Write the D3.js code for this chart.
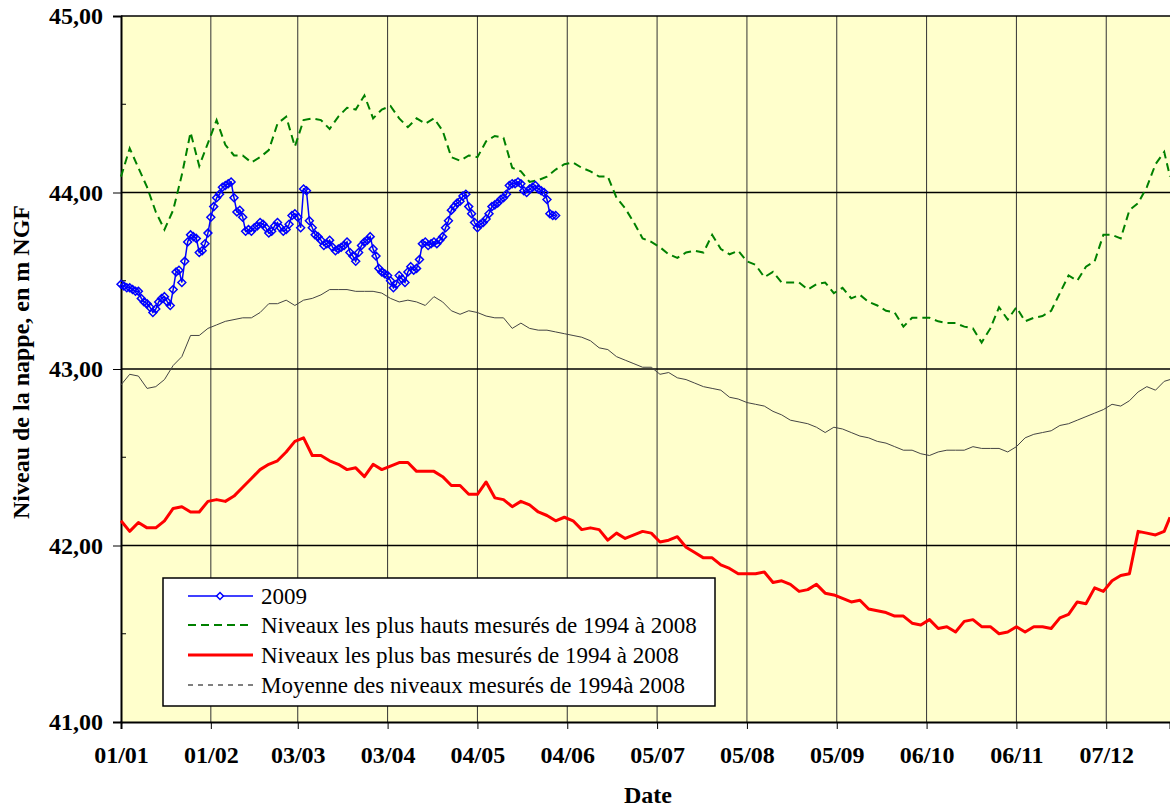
<!DOCTYPE html>
<html>
<head>
<meta charset="utf-8">
<script src="https://cdn.jsdelivr.net/npm/d3@7"></script>
<style>
  body { margin: 0; background: #fff; }
  svg { display: block; }
  text { font-family: "Liberation Serif", "Times New Roman", serif; }
</style>
</head>
<body>
<svg id="chart" width="1170" height="809"></svg>
<script>
// days counted from 01/01/2009
var tickDays = [0, 31, 61, 92, 123, 154, 185, 216, 247, 278, 309, 340];
var tickLabels = ["01/01", "01/02", "03/03", "03/04", "04/05", "04/06", "05/07", "05/08", "05/09", "06/10", "06/11", "07/12"];
var yTicks = [41, 42, 43, 44, 45];

// 2009, one reading a day from 01/01
var serie2009 = [43.48,43.47,43.46,43.46,43.45,43.44,43.44,43.40,43.38,43.37,
  43.35,43.32,43.34,43.38,43.40,43.41,43.38,43.36,43.45,43.55,
  43.56,43.49,43.61,43.72,43.76,43.75,43.74,43.66,43.67,43.71,
  43.77,43.86,43.92,43.97,43.99,44.03,44.04,44.05,44.06,43.97,
  43.89,43.90,43.86,43.78,43.79,43.78,43.80,43.81,43.83,43.82,
  43.80,43.77,43.78,43.81,43.83,43.80,43.78,43.79,43.82,43.87,
  43.88,43.86,43.80,44.02,44.01,43.84,43.80,43.76,43.75,43.73,
  43.70,43.71,43.73,43.69,43.67,43.68,43.69,43.70,43.72,43.66,
  43.64,43.61,43.66,43.70,43.72,43.73,43.75,43.68,43.64,43.57,
  43.55,43.54,43.53,43.50,43.46,43.48,43.53,43.51,43.49,43.55,
  43.58,43.56,43.57,43.62,43.71,43.72,43.70,43.71,43.72,43.71,
  43.73,43.75,43.80,43.84,43.90,43.92,43.94,43.95,43.98,43.99,
  43.92,43.88,43.83,43.80,43.82,43.83,43.85,43.88,43.92,43.93,
  43.94,43.96,43.97,43.99,44.04,44.05,44.05,44.06,44.05,44.01,
  44.00,44.02,44.03,44.04,44.02,44.01,44.00,43.96,43.88,43.87,
  43.87];

// 1994-2008 statistics, read every 3 days
var statDays = d3.range(0, 361, 3).concat([362]);
var niveauxHauts = [44.09,44.25,44.14,44.03,43.89,43.79,43.90,44.10,44.34,44.15,
  44.28,44.41,44.27,44.21,44.21,44.17,44.20,44.24,44.39,44.43,
  44.26,44.41,44.42,44.41,44.36,44.43,44.48,44.47,44.55,44.42,
  44.47,44.49,44.42,44.37,44.42,44.39,44.42,44.35,44.20,44.18,
  44.21,44.20,44.29,44.32,44.31,44.14,44.12,44.06,44.07,44.09,
  44.13,44.16,44.17,44.14,44.12,44.09,44.09,43.97,43.91,43.83,
  43.74,43.72,43.69,43.65,43.63,43.66,43.67,43.66,43.76,43.68,
  43.65,43.67,43.61,43.59,43.52,43.55,43.49,43.49,43.49,43.45,
  43.48,43.49,43.43,43.46,43.40,43.42,43.38,43.36,43.33,43.32,
  43.24,43.29,43.29,43.29,43.27,43.26,43.26,43.24,43.23,43.15,
  43.23,43.35,43.28,43.35,43.27,43.29,43.30,43.33,43.43,43.53,
  43.50,43.58,43.61,43.76,43.76,43.74,43.90,43.94,44.03,44.16,
  44.23,44.09];
var niveauxBas = [42.14,42.08,42.13,42.10,42.10,42.14,42.21,42.22,42.19,42.19,
  42.25,42.26,42.25,42.28,42.33,42.38,42.43,42.46,42.48,42.53,
  42.59,42.61,42.51,42.51,42.48,42.46,42.43,42.44,42.39,42.46,
  42.43,42.45,42.47,42.47,42.42,42.42,42.42,42.39,42.34,42.34,
  42.29,42.29,42.36,42.27,42.26,42.22,42.25,42.23,42.19,42.17,
  42.14,42.16,42.14,42.09,42.10,42.09,42.03,42.07,42.04,42.06,
  42.08,42.07,42.02,42.03,42.05,41.99,41.96,41.93,41.93,41.89,
  41.87,41.84,41.84,41.84,41.85,41.79,41.80,41.78,41.74,41.75,
  41.78,41.73,41.72,41.70,41.68,41.69,41.64,41.63,41.62,41.60,
  41.60,41.56,41.55,41.58,41.53,41.54,41.51,41.57,41.58,41.54,
  41.54,41.50,41.51,41.54,41.51,41.54,41.54,41.53,41.59,41.61,
  41.68,41.67,41.76,41.74,41.80,41.83,41.84,42.08,42.07,42.06,
  42.08,42.16];
var moyenne = [42.91,42.97,42.96,42.89,42.90,42.94,43.02,43.07,43.19,43.19,
  43.23,43.25,43.27,43.28,43.29,43.29,43.32,43.37,43.37,43.39,
  43.36,43.39,43.40,43.42,43.45,43.45,43.45,43.44,43.44,43.44,
  43.43,43.40,43.38,43.39,43.38,43.36,43.41,43.38,43.33,43.31,
  43.33,43.32,43.30,43.29,43.29,43.23,43.26,43.23,43.22,43.22,
  43.21,43.20,43.19,43.18,43.16,43.12,43.11,43.07,43.05,43.03,
  43.01,43.01,42.97,42.98,42.95,42.94,42.92,42.90,42.89,42.88,
  42.84,42.83,42.81,42.80,42.79,42.76,42.74,42.71,42.70,42.69,
  42.67,42.64,42.67,42.66,42.64,42.62,42.61,42.59,42.58,42.56,
  42.54,42.54,42.52,42.51,42.53,42.54,42.54,42.54,42.56,42.55,
  42.55,42.55,42.53,42.56,42.61,42.63,42.64,42.65,42.68,42.69,
  42.71,42.73,42.75,42.77,42.80,42.79,42.82,42.87,42.90,42.88,
  42.93,42.94];

var legendLabels = ["2009",
  "Niveaux les plus hauts mesurés de 1994 à 2008",
  "Niveaux les plus bas mesurés de 1994 à 2008",
  "Moyenne des niveaux mesurés de 1994à 2008"];

(function(){
var svg = d3.select("#chart");
var pLeft = 121, pRight = 1170, pTop = 16, pBottom = 722;
var serif = "'Liberation Serif', 'Times New Roman', serif";

var x = d3.scaleLinear().domain([0, 362]).range([pLeft, pRight]);
var y = d3.scaleLinear().domain([41, 45]).range([pBottom, pTop]);

// plot area
svg.append("rect").attr("x", pLeft).attr("y", pTop).attr("width", pRight - pLeft).attr("height", pBottom - pTop).attr("fill", "#FFFFCC");

// grid
svg.append("g").selectAll("line").data(tickDays.slice(1)).enter().append("line")
  .attr("x1", function(d){ return x(d); }).attr("x2", function(d){ return x(d); })
  .attr("y1", pTop).attr("y2", pBottom).attr("stroke", "#333").attr("stroke-width", 1);
svg.append("g").selectAll("line").data([42, 43, 44]).enter().append("line")
  .attr("x1", pLeft).attr("x2", pRight).attr("y1", function(d){ return y(d); }).attr("y2", function(d){ return y(d); })
  .attr("stroke", "#000").attr("stroke-width", 1.5);
svg.append("line").attr("x1", pLeft).attr("x2", pRight).attr("y1", pTop).attr("y2", pTop).attr("stroke", "#000").attr("stroke-width", 1.5);

// axes
var xAxis = d3.axisBottom(x).tickValues(tickDays).tickSize(7).tickFormat(function(d, i){ return tickLabels[i]; });
var gx = svg.append("g").attr("transform", "translate(0," + pBottom + ")").call(xAxis);
gx.select(".domain").attr("stroke", "#000").attr("stroke-width", 2);
gx.selectAll("text").attr("font-size", 24).attr("font-weight", "bold").attr("fill", "#000").attr("dy", "1.3em")
  .style("font-family", serif);

var yAxis = d3.axisLeft(y).tickValues(yTicks).tickSize(8).tickPadding(10)
  .tickFormat(function(d){ return d3.format(".2f")(d).replace(".", ","); });
var gy = svg.append("g").attr("transform", "translate(" + pLeft + ",0)").call(yAxis);
gy.select(".domain").attr("stroke", "#000").attr("stroke-width", 2);
gy.selectAll("text").attr("font-size", 24).attr("font-weight", "bold").attr("fill", "#000")
  .style("font-family", serif);
// minor ticks inside
svg.append("g").selectAll("line").data([41.5, 42.5, 43.5, 44.5]).enter().append("line")
  .attr("x1", pLeft).attr("x2", pLeft + 5).attr("y1", function(d){ return y(d); }).attr("y2", function(d){ return y(d); })
  .attr("stroke", "#000").attr("stroke-width", 1);

// series
var lineStat = function(vals){
  return d3.line().x(function(d, i){ return x(statDays[i]); }).y(function(d){ return y(d); })(vals);
};
svg.append("path").attr("d", lineStat(moyenne)).attr("fill", "none").attr("stroke", "#444").attr("stroke-width", 1);
svg.append("path").attr("d", lineStat(niveauxBas)).attr("fill", "none").attr("stroke", "#FF0000").attr("stroke-width", 3).attr("stroke-linejoin", "round");
svg.append("path").attr("d", lineStat(niveauxHauts)).attr("fill", "none").attr("stroke", "#008000").attr("stroke-width", 2).attr("stroke-dasharray", "8,5");

var line2009 = d3.line().x(function(d, i){ return x(i); }).y(function(d){ return y(d); });
svg.append("path").attr("d", line2009(serie2009)).attr("fill", "none").attr("stroke", "#0000FF").attr("stroke-width", 1.5);
var diamond = d3.symbol().type(d3.symbolDiamond2).size(40);
svg.append("g").selectAll("path").data(serie2009).enter().append("path")
  .attr("d", diamond).attr("transform", function(d, i){ return "translate(" + x(i) + "," + y(d) + ")"; })
  .attr("fill", "none").attr("stroke", "#0000FF").attr("stroke-width", 1.5);

// legend
var lg = svg.append("g");
lg.append("rect").attr("x", 163).attr("y", 578).attr("width", 552).attr("height", 128).attr("fill", "#fff").attr("stroke", "#000").attr("stroke-width", 1.5);
var rows = [596, 625, 655, 685];
var styles = [
  {c: "#0000FF", w: 1.5, dash: null},
  {c: "#008000", w: 2, dash: "8,5"},
  {c: "#FF0000", w: 3, dash: null},
  {c: "#000", w: 1, dash: "5,5"}
];
legendLabels.forEach(function(lab, i){
  lg.append("line").attr("x1", 188).attr("x2", 253).attr("y1", rows[i]).attr("y2", rows[i])
    .attr("stroke", styles[i].c).attr("stroke-width", styles[i].w).attr("stroke-dasharray", styles[i].dash);
  lg.append("text").attr("x", 261).attr("y", rows[i] + 8).attr("font-size", 23).text(lab);
});
lg.append("path").attr("d", d3.symbol().type(d3.symbolDiamond2).size(30)).attr("transform", "translate(220," + rows[0] + ")")
  .attr("fill", "#fff").attr("stroke", "#0000FF").attr("stroke-width", 1.5);

// titles
svg.append("text").attr("x", 648).attr("y", 803).attr("text-anchor", "middle").attr("font-size", 24).attr("font-weight", "bold").text("Date");
svg.append("text").attr("transform", "translate(29,362) rotate(-90)").attr("text-anchor", "middle").attr("font-size", 24).attr("font-weight", "bold").text("Niveau de la nappe, en m NGF");
})();
</script>
</body>
</html>
